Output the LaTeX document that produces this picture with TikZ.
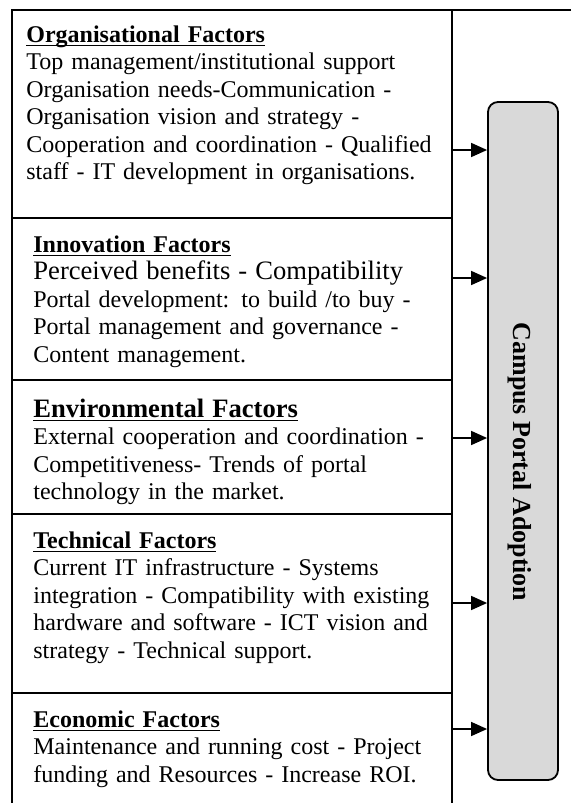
\documentclass[tikz,border=0pt]{standalone}
\usepackage{fontspec}
\setmainfont{Liberation Serif}
\usepackage{tikz}
\usetikzlibrary{arrows.meta, positioning}
% bold heading with a close underline
\newcommand{\facthead}[2][24]{{\fontsize{#1}{27.5}\selectfont\setbox0\hbox{\bfseries #2}\rlap{\rule[-4.4pt]{\wd0}{1.9pt}}\box0}}

\begin{document}
\begin{tikzpicture}[x=1pt, y=-1pt, thick,
        factor/.style = {anchor=base west, inner sep=0pt, text width=425pt, align=left,
                         font=\fontsize{24}{27.5}\selectfont},
        frameline/.style = {line width=1.8pt},
        adoptbox/.style = {draw, line width=1.8pt, fill=gray!30, rounded corners=10pt,
                           minimum width=70pt, minimum height=678pt, inner sep=0pt},
        feed/.style = {line width=1.5pt, -{Triangle[length=16pt, width=14pt]}},
    ]
    \useasboundingbox (0,0) rectangle (571,803);
    % frame of the factor boxes
    \draw[frameline] (571,10) -- (12,10) -- (12,803);
    \draw[frameline] (452,10) -- (452,803);
    \foreach \y in {218, 380, 514, 693}
        \draw[frameline] (12,\y) -- (452,\y);
    %
    \node[factor] (orgf) at (26,42) {\facthead{Organisational Factors}\\
        Top management/institutional support\\
        Organisation needs-Communication -\\
        Organisation vision and strategy -\\
        Cooperation and coordination - Qualified\\
        staff - IT development in organisations.};
    \node[factor] (innof) at (33,252) {\facthead{Innovation Factors}\\
        {\fontsize{26.6}{27.5}\selectfont Perceived benefits - Compatibility}\\
        Portal development: to build /to buy -\\
        Portal management and governance -\\
        Content management.};
    \node[factor] (envf) at (33,417) {\facthead[26.6]{Environmental Factors}\\
        External cooperation and coordination -\\
        Competitiveness- Trends of portal\\
        technology in the market.};
    \node[factor] (techf) at (33,548) {\facthead{Technical Factors}\\
        Current IT infrastructure - Systems\\
        integration - Compatibility with existing\\
        hardware and software - ICT vision and\\
        strategy - Technical support.};
    \node[factor] (econf) at (33,727) {\facthead{Economic Factors}\\
        Maintenance and running cost - Project\\
        funding and Resources - Increase ROI.};
    %
    \node[adoptbox] (adoption) at (523,441) {};
    \node[rotate=-90, font=\fontsize{26}{30}\selectfont\bfseries] (adoptlabel) at (520,462) {Campus Portal Adoption};
    %
    \coordinate (orgout)  at (452,150);
    \coordinate (innoout) at (452,278);
    \coordinate (envout)  at (452,438);
    \coordinate (techout) at (452,603);
    \coordinate (econout) at (452,729);
    \foreach \c in {orgout, innoout, envout, techout, econout}
        \draw[feed] (\c) -- (\c -| adoption.west);
    %
\end{tikzpicture}
\end{document}
